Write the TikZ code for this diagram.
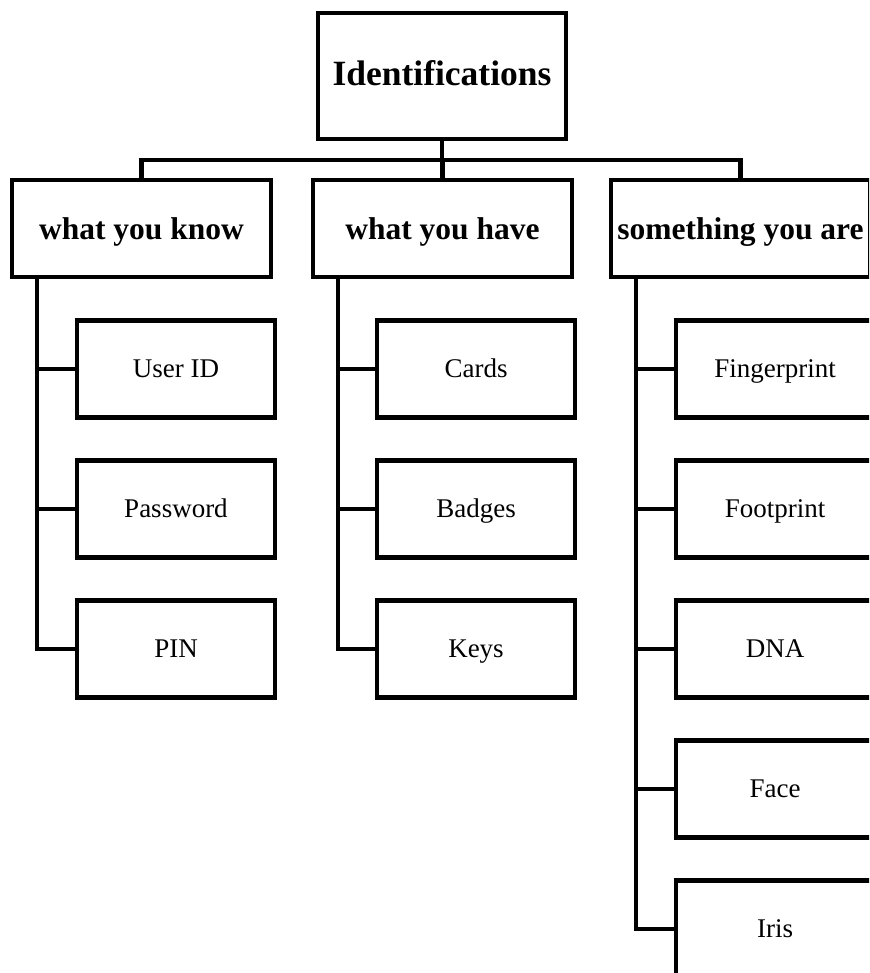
\documentclass[tikz,border=0pt]{standalone}
\usepackage{fontspec}
\setmainfont{Liberation Serif}
\usetikzlibrary{calc}
\tikzset{
  link/.style={line width=4.3pt},
  box/.style={draw, line width=4.3pt, rectangle, inner sep=0pt, fill=white},
  rootbox/.style={box, minimum width=248pt, minimum height=126pt,
    text height=28pt, text depth=8pt,
    font=\fontsize{35.5}{40}\selectfont\bfseries},
  groupbox/.style={box, minimum width=259pt, minimum height=97pt,
    text height=29pt, text depth=6pt,
    font=\fontsize{31.5}{36}\selectfont\bfseries},
  leafbox/.style={box, minimum width=198pt, minimum height=97pt,
    text height=22pt, text depth=6pt,
    font=\fontsize{27}{31}\selectfont},
}
\begin{document}
\begin{tikzpicture}[x=1pt, y=-1pt]
\useasboundingbox (0,0) rectangle (869,973);
\fill[white] (0,0) rectangle (869,973);
\clip (0,0) rectangle (869,973);

% root and the three groups
\node[rootbox] (root) at (442,76) {Identifications};
\node[groupbox] (know) at (141.5,228.5) {what you know};
\node[groupbox] (have) at (442.5,228.5) {what you have};
\node[groupbox] (are)  at (740.5,228.5) {something you are};

% leaves
\node[leafbox] (uid)  at (176,369) {User ID};
\node[leafbox] (pwd)  at (176,509) {Password};
\node[leafbox] (pin)  at (176,649) {PIN};
\node[leafbox] (card) at (476,369) {Cards};
\node[leafbox] (badg) at (476,509) {Badges};
\node[leafbox] (keys) at (476,649) {Keys};
\node[leafbox] (fing) at (775,369) {Fingerprint};
\node[leafbox] (foot) at (775,509) {Footprint};
\node[leafbox] (dna)  at (775,649) {DNA};
\node[leafbox] (face) at (775,789) {Face};
\node[leafbox] (iris) at (775,929) {Iris};

% root to groups
\coordinate (bar) at (442,160);
\draw[link] (root.south) -- (bar);
\draw[link] (know.north) |- (bar) -| (are.north);
\draw[link] (have.north) -- (have.north |- bar);

% group spines
\coordinate (ks) at ($(know.south west)+(27,0)$);
\coordinate (hs) at ($(have.south west)+(27,0)$);
\coordinate (as) at ($(are.south west)+(27,0)$);

\draw[link] (ks) |- (pin.west);
\draw[link] (ks |- uid.west) -- (uid.west);
\draw[link] (ks |- pwd.west) -- (pwd.west);

\draw[link] (hs) |- (keys.west);
\draw[link] (hs |- card.west) -- (card.west);
\draw[link] (hs |- badg.west) -- (badg.west);

\draw[link] (as) |- (iris.west);
\draw[link] (as |- fing.west) -- (fing.west);
\draw[link] (as |- foot.west) -- (foot.west);
\draw[link] (as |- dna.west) -- (dna.west);
\draw[link] (as |- face.west) -- (face.west);
\end{tikzpicture}
\end{document}
